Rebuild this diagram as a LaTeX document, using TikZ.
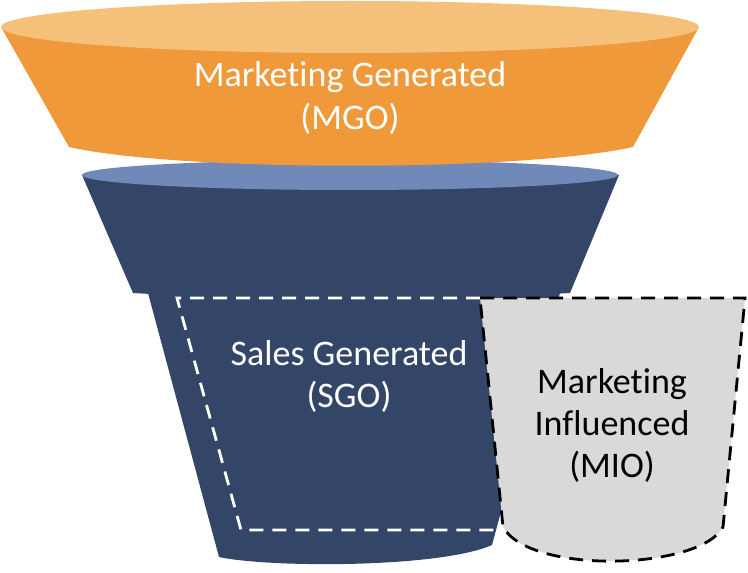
\documentclass[tikz,border=0pt]{standalone}
\usepackage{fontspec}
\setmainfont[Ligatures=NoCommon]{Carlito}
\usepackage{xcolor}
\usepackage{tikz}
\definecolor{mgoorange}{HTML}{F0993A}
\definecolor{mgotop}{HTML}{F5C07A}
\definecolor{midtop}{HTML}{7089B8}
\definecolor{navy}{HTML}{344667}
\definecolor{miogray}{HTML}{D9D9D9}
\tikzset{
  label/.style={align=center, font=\fontsize{18}{21}\selectfont, inner sep=0pt},
  dashline/.style={line width=1.4pt, dash pattern=on 7pt off 4.5pt}
}

\begin{document}
\begin{tikzpicture}[x=0.5pt, y=-0.5pt]
            \useasboundingbox (0,0) rectangle (748,572);

            % bottom section
            \fill[navy] (148,293) -- (560,293) -- (492,545)
                .. controls (440,568) and (270,568) .. (219,557) -- cycle;
            % middle section
            \fill[navy] (82,175) -- (619,175) -- (570,293)
                .. controls (450,300) and (250,300) .. (133,293) -- cycle;
            \fill[midtop] (350,175) ellipse (268 and 15);
            % top section
            \fill[mgoorange] (1,27) -- (699,27) -- (633,147)
                .. controls (520,172) and (180,172) .. (69,147) -- cycle;
            \fill[mgotop] (350,27) ellipse (349 and 26);

            % dashed frame
            \draw[dashline, white] (480,298) -- (177,298) -- (241,530) -- (500,530);
            % marketing influenced cup
            \draw[dashline, black, fill=miogray] (480,298) -- (745,298) -- (723,527)
                .. controls (700,570) and (530,575) .. (503,527) -- cycle;

            \node[label, text=white] (mgo) at (350,98) {Marketing Generated\\(MGO)};
            \node[label, text=white] (sgo) at (349,376) {Sales Generated\\(SGO)};
            \node[label, text=black] (mio) at (612,425) {Marketing\\Influenced\\(MIO)};
        \end{tikzpicture}
\end{document}
